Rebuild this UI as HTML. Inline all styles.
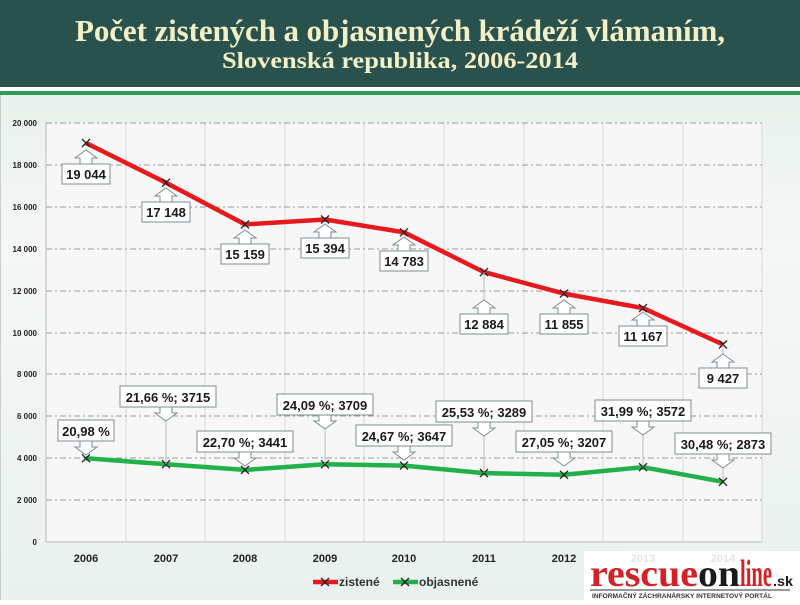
<!DOCTYPE html><html><head><meta charset="utf-8"><style>
body{margin:0;width:800px;height:600px;overflow:hidden;background:#fff;font-family:"Liberation Sans",sans-serif}
</style></head><body>
<svg width="800" height="600" xmlns="http://www.w3.org/2000/svg" font-family="Liberation Sans, sans-serif">
<defs><linearGradient id="bg" x1="0" y1="0" x2="0" y2="1"><stop offset="0" stop-color="#e8f1ed"/><stop offset="0.3" stop-color="#f5f7f6"/><stop offset="1" stop-color="#e9f1ee"/></linearGradient></defs>
<rect x="0" y="0" width="800" height="87" fill="#29524e"/>
<rect x="0" y="87" width="800" height="4" fill="#fff"/>
<rect x="0" y="91" width="800" height="4" fill="#2f9a55"/>
<rect x="0" y="95" width="800" height="505" fill="url(#bg)"/>
<rect x="0" y="95" width="1" height="505" fill="#c8d0cc"/>
<text x="400" y="41" text-anchor="middle" font-family="Liberation Serif, serif" font-weight="bold" font-size="31" fill="#f3efc6" textLength="650" lengthAdjust="spacing">Počet zistených  a objasnených krádeží  vlámaním,</text>
<text x="400" y="68" text-anchor="middle" font-family="Liberation Serif, serif" font-weight="bold" font-size="23" fill="#f3efc6" textLength="356" lengthAdjust="spacingAndGlyphs">Slovenská republika, 2006-2014</text>
<rect x="46" y="123" width="716" height="419" fill="#f7f7f7"/>
<g stroke="#d8d8d8" stroke-width="1">
<line x1="126" y1="123" x2="126" y2="542"/><line x1="205" y1="123" x2="205" y2="542"/><line x1="285" y1="123" x2="285" y2="542"/><line x1="364" y1="123" x2="364" y2="542"/><line x1="444" y1="123" x2="444" y2="542"/><line x1="524" y1="123" x2="524" y2="542"/><line x1="603" y1="123" x2="603" y2="542"/><line x1="683" y1="123" x2="683" y2="542"/><line x1="762" y1="123" x2="762" y2="542"/>
</g>
<g stroke="#9a9a9a" stroke-width="1" stroke-dasharray="6,3,2,3">
<line x1="46" y1="123" x2="762" y2="123"/><line x1="46" y1="165" x2="762" y2="165"/><line x1="46" y1="207" x2="762" y2="207"/><line x1="46" y1="249" x2="762" y2="249"/><line x1="46" y1="291" x2="762" y2="291"/><line x1="46" y1="333" x2="762" y2="333"/><line x1="46" y1="374" x2="762" y2="374"/><line x1="46" y1="416" x2="762" y2="416"/><line x1="46" y1="458" x2="762" y2="458"/><line x1="46" y1="500" x2="762" y2="500"/>
</g>
<line x1="46" y1="123" x2="46" y2="542" stroke="#bbb"/>
<line x1="46" y1="542" x2="762" y2="542" stroke="#bbb"/>
<g font-size="8" font-weight="bold" fill="#222" text-anchor="end">
<text x="37" y="126">20 000</text><text x="37" y="168">18 000</text><text x="37" y="210">16 000</text><text x="37" y="252">14 000</text><text x="37" y="294">12 000</text><text x="37" y="336">10 000</text><text x="37" y="377">8 000</text><text x="37" y="419">6 000</text><text x="37" y="461">4 000</text><text x="37" y="503">2 000</text><text x="37" y="545">0</text>
</g>
<g font-size="11" font-weight="bold" fill="#222" text-anchor="middle">
<text x="86" y="562">2006</text><text x="166" y="562">2007</text><text x="245" y="562">2008</text><text x="325" y="562">2009</text><text x="404" y="562">2010</text><text x="484" y="562">2011</text><text x="564" y="562">2012</text><text x="643" y="562">2013</text><text x="723" y="562">2014</text>
</g>
<polyline points="86,143 166,182.7 245,224.4 325,219.5 404,232.3 484,272.1 564,293.6 643,308.1 723,344.5" fill="none" stroke="#e8191c" stroke-width="4.5" stroke-linejoin="round"/>
<polyline points="86,458.3 166,464.2 245,469.9 325,464.3 404,465.6 484,473.1 564,474.8 643,467.2 723,481.8" fill="none" stroke="#22b04a" stroke-width="4.5" stroke-linejoin="round"/>
<g stroke="#222" stroke-width="1.3">
<path d="M82,139l8,8M90,139l-8,8M162,178.7l8,8M170,178.7l-8,8M241,220.4l8,8M249,220.4l-8,8M321,215.5l8,8M329,215.5l-8,8M400,228.3l8,8M408,228.3l-8,8M480,268.1l8,8M488,268.1l-8,8M560,289.6l8,8M568,289.6l-8,8M639,304.1l8,8M647,304.1l-8,8M719,340.5l8,8M727,340.5l-8,8"/>
<path d="M82,454.3l8,8M90,454.3l-8,8M162,460.2l8,8M170,460.2l-8,8M241,465.9l8,8M249,465.9l-8,8M321,460.3l8,8M329,460.3l-8,8M400,461.6l8,8M408,461.6l-8,8M480,469.1l8,8M488,469.1l-8,8M560,470.8l8,8M568,470.8l-8,8M639,463.2l8,8M647,463.2l-8,8M719,477.8l8,8M727,477.8l-8,8"/>
</g>
<g stroke="#bbb" stroke-width="1">
<line x1="484" y1="272" x2="484" y2="300"/><line x1="723" y1="345" x2="723" y2="354"/>
<line x1="166" y1="421" x2="166" y2="464"/><line x1="325" y1="429" x2="325" y2="464"/><line x1="484" y1="436" x2="484" y2="473"/><line x1="643" y1="435" x2="643" y2="467"/><line x1="723" y1="468" x2="723" y2="480"/>
</g>
<g fill="#fff" stroke="#7d8d96" stroke-width="1">
<rect x="62" y="164" width="48" height="20"/><path d="M86,150l11,8h-5v6h-12v-6h-5z"/>
<rect x="142" y="202" width="48" height="20"/><path d="M166,188l11,8h-5v6h-12v-6h-5z"/>
<rect x="221" y="244" width="48" height="20"/><path d="M245,230l11,8h-5v6h-12v-6h-5z"/>
<rect x="301" y="238" width="48" height="20"/><path d="M325,224l11,8h-5v6h-12v-6h-5z"/>
<rect x="380" y="251" width="48" height="20"/><path d="M404,237l11,8h-5v6h-12v-6h-5z"/>
<rect x="460" y="314" width="48" height="20"/><path d="M484,300l11,8h-5v6h-12v-6h-5z"/>
<rect x="540" y="314" width="48" height="20"/><path d="M564,300l11,8h-5v6h-12v-6h-5z"/>
<rect x="619" y="326" width="48" height="20"/><path d="M643,312l11,8h-5v6h-12v-6h-5z"/>
<rect x="699" y="368" width="48" height="20"/><path d="M723,354l11,8h-5v6h-12v-6h-5z"/>
<rect x="58" y="420" width="56" height="21"/><path d="M86,455l11,-8h-5v-6h-12v6h-5z"/>
<rect x="120" y="386" width="96" height="21"/><path d="M166,421l11,-8h-5v-6h-12v6h-5z"/>
<rect x="197" y="431" width="96" height="21"/><path d="M245,466l11,-8h-5v-6h-12v6h-5z"/>
<rect x="277" y="394" width="96" height="21"/><path d="M325,429l11,-8h-5v-6h-12v6h-5z"/>
<rect x="356" y="425" width="96" height="21"/><path d="M404,460l11,-8h-5v-6h-12v6h-5z"/>
<rect x="436" y="401" width="96" height="21"/><path d="M484,436l11,-8h-5v-6h-12v6h-5z"/>
<rect x="516" y="431" width="96" height="21"/><path d="M564,466l11,-8h-5v-6h-12v6h-5z"/>
<rect x="595" y="400" width="96" height="21"/><path d="M643,435l11,-8h-5v-6h-12v6h-5z"/>
<rect x="675" y="433" width="96" height="21"/><path d="M723,468l11,-8h-5v-6h-12v6h-5z"/>
</g>
<g font-size="13" font-weight="bold" fill="#1a1a1a" text-anchor="middle">
<text x="86" y="179">19 044</text><text x="166" y="217">17 148</text><text x="245" y="259">15 159</text><text x="325" y="253">15 394</text><text x="404" y="266">14 783</text><text x="484" y="329">12 884</text><text x="564" y="329">11 855</text><text x="643" y="341">11 167</text><text x="723" y="383">9 427</text>
<text x="86" y="436">20,98 %</text><text x="168" y="402">21,66 %; 3715</text><text x="245" y="447">22,70 %; 3441</text><text x="325" y="410">24,09 %; 3709</text><text x="404" y="441">24,67 %; 3647</text><text x="484" y="417">25,53 %; 3289</text><text x="564" y="447">27,05 %; 3207</text><text x="643" y="416">31,99 %; 3572</text><text x="723" y="449">30,48 %; 2873</text>
</g>
<line x1="313" y1="582" x2="338" y2="582" stroke="#e8191c" stroke-width="4.5"/>
<path d="M321,578l8,8M329,578l-8,8" stroke="#222" stroke-width="1.3"/>
<text x="339" y="586" font-size="12" font-weight="bold" fill="#333">zistené</text>
<line x1="393" y1="582" x2="418" y2="582" stroke="#22b04a" stroke-width="4.5"/>
<path d="M401,578l8,8M409,578l-8,8" stroke="#222" stroke-width="1.3"/>
<text x="419" y="586" font-size="12" font-weight="bold" fill="#333">objasnené</text>
<rect x="584" y="551" width="216" height="49" fill="#fff" opacity="0.88"/>
<text x="590" y="586" font-family="Liberation Serif, serif" font-weight="bold" font-size="38" fill="#d42027" textLength="108" lengthAdjust="spacingAndGlyphs">rescue</text>
<text x="698" y="586" font-family="Liberation Serif, serif" font-weight="bold" font-size="38" fill="#1a1a1a" textLength="42" lengthAdjust="spacingAndGlyphs">on</text>
<text x="740" y="586" font-family="Liberation Serif, serif" font-weight="bold" font-size="38" fill="#d42027" textLength="32" lengthAdjust="spacingAndGlyphs">line</text>
<text x="773" y="586" font-weight="bold" font-size="14" fill="#1a1a1a" textLength="20" lengthAdjust="spacingAndGlyphs">.sk</text>
<line x1="590" y1="590" x2="790" y2="590" stroke="#333" stroke-width="1"/>
<text x="592" y="598" font-size="6.5" font-weight="bold" fill="#333" textLength="180" lengthAdjust="spacingAndGlyphs">INFORMAČNÝ ZÁCHRANÁRSKY INTERNETOVÝ PORTÁL</text>
</svg>
</body></html>
